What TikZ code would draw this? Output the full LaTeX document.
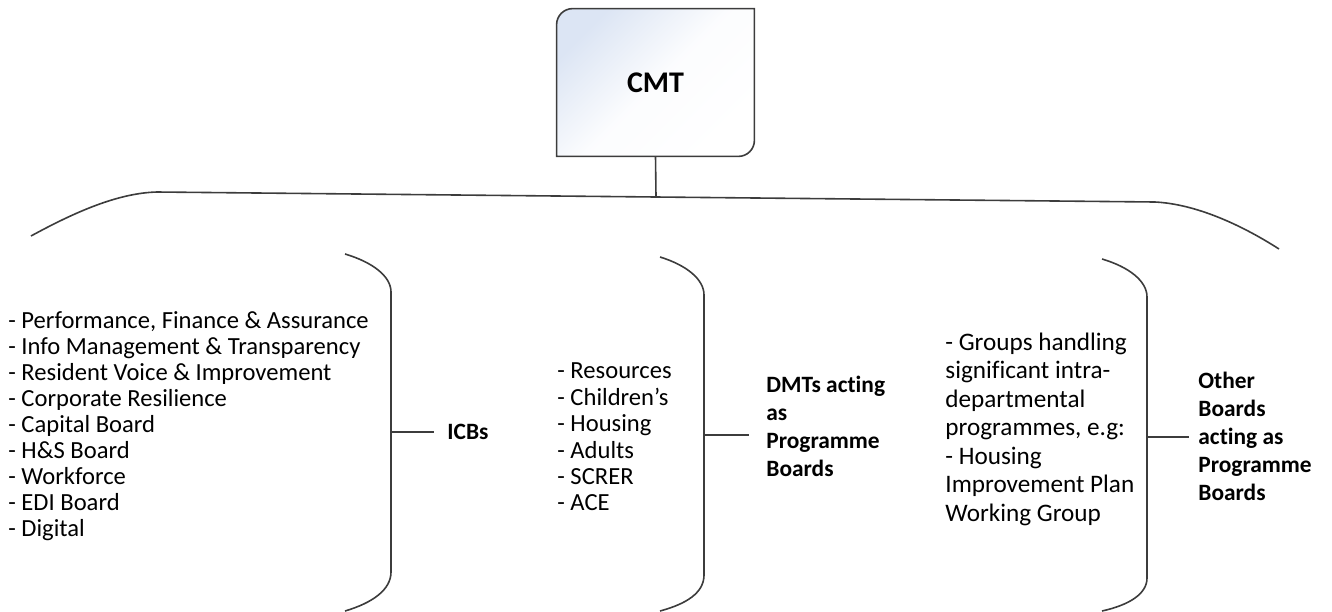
\documentclass[tikz,border=0pt]{standalone}
\usepackage{fontspec}
\setmainfont{Carlito}[Ligatures=NoCommon]
\usetikzlibrary{positioning}

\definecolor{linegray}{HTML}{3C3C3C}
\definecolor{cmtblue}{HTML}{DCE5F4}

\tikzset{
  bline/.style={draw=linegray, line width=0.8pt},
  listtxt/.style={anchor=west, align=left, inner sep=0pt, font=\fontsize{12.3}{13}\selectfont},
  lbl/.style={anchor=west, align=left, inner sep=0pt, font=\fontsize{11.7}{14}\selectfont\bfseries},
  cmtbox/.style={minimum width=98.5pt, minimum height=73.5pt, inner sep=0pt, font=\fontsize{15}{18}\selectfont\bfseries}
}

\begin{document}
\begin{tikzpicture}[x=0.5pt,y=-0.5pt]
\useasboundingbox (0,0) rectangle (1332,611);

% --- CMT ---
\node[cmtbox] (cmt) at (655.5,82.5) {};
\draw[bline, top color=cmtblue, bottom color=white, middle color=white!90!cmtblue, shading angle=45]
  (cmt.south west) -- ([yshift=-8pt]cmt.north west)
  arc[start angle=180, end angle=90, radius=8pt] -- (cmt.north east)
  -- ([yshift=8pt]cmt.south east)
  arc[start angle=0, end angle=-90, radius=8pt] -- cycle;
\node[cmtbox] at (cmt) {CMT};

% --- Parentesi in alto ---
\coordinate (topmid) at (656,197);
\draw[bline]
  (31,236) .. controls (75,212) and (118,193) .. (157,192)
  -- (1155,202) .. controls (1195,204) and (1240,224) .. (1279,249);
\draw[bline] (cmt.south) -- (topmid);

% --- Parentesi ---
\draw[bline]
  (345,254) .. controls (372,262) and (391,276) .. (391,292)
  -- (391,572) .. controls (391,590) and (372,603) .. (345,611);
\draw[bline]
  (660,257) .. controls (686,265) and (704,279) .. (704,295)
  -- (704,575) .. controls (704,593) and (686,604) .. (660,611);
\draw[bline]
  (1102,259) .. controls (1129,267) and (1147,281) .. (1147,297)
  -- (1147,578) .. controls (1147,594) and (1129,605) .. (1102,611);

\coordinate (b1) at (391,432);
\coordinate (b2) at (704,435);
\coordinate (b3) at (1147,437);

% --- Etichette ---
\node[lbl] (icb) at (447,432) {ICBs};
\node[lbl] (dmt) at (766,426) {DMTs acting\\as\\Programme\\Boards};
\node[lbl] (other) at (1198,436.5) {Other\\Boards\\acting as\\Programme\\Boards};

\draw[bline, shorten >=6.5pt] (b1) -- (b1 -| icb.west);
\draw[bline, shorten >=8.5pt] (b2) -- (b2 -| dmt.west);
\draw[bline, shorten >=4.5pt] (b3) -- (b3 -| other.west);

% --- Elenchi ---
\node[listtxt] (icblist) at (8,426) {- Performance, Finance \& Assurance\\
  - Info Management \& Transparency\\- Resident Voice \& Improvement\\
  - Corporate Resilience\\- Capital Board\\- H\&S Board\\- Workforce\\
  - EDI Board\\- Digital};
\node[listtxt, font=\fontsize{12.3}{13.2}\selectfont] (dmtlist) at (557,437)
  {- Resources\\- Children’s\\- Housing\\- Adults\\- SCRER\\- ACE};
\node[listtxt, font=\fontsize{12.6}{14.25}\selectfont] (otherlist) at (945,429)
  {- Groups handling\\significant intra-\\departmental\\programmes, e.g:\\
  - Housing\\Improvement Plan\\Working Group};

\end{tikzpicture}
\end{document}
